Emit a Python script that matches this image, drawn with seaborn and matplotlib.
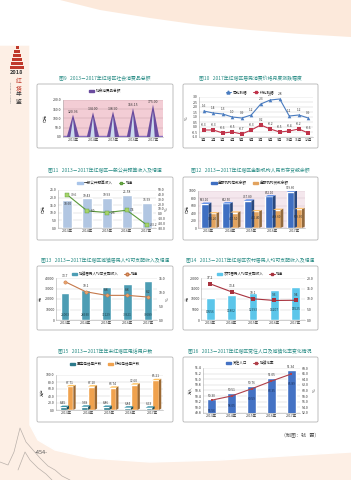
import numpy as np
import pandas as pd
import matplotlib
matplotlib.use("Agg")
import matplotlib.pyplot as plt
import matplotlib.colors as mcolors
import seaborn as sns
from matplotlib.patches import Polygon, Rectangle, FancyBboxPatch, Patch
from matplotlib.lines import Line2D

sns.set_theme(style="white")
plt.rcParams["font.family"] = ["Noto Sans CJK SC", "DejaVu Sans"]
plt.rcParams["axes.unicode_minus"] = False

# ---------------- data ----------------
years = ["2013年", "2014年", "2015年", "2016年", "2017年"]
retail_total = [120.96, 134.00, 138.90, 156.15, 175.00]

months = ["1月", "2月", "3月", "4月", "5月", "6月", "7月", "8月", "9月", "10月", "11月", "12月"]
cpi_yoy = [1.6, 1.4, 1.3, 1.0, 0.9, 1.2, 2.3, 2.7, 2.8, 1.1, 1.2, 0.9]
cpi_mom = [-0.3, -0.3, -0.6, -0.5, -0.7, -0.3, 0.2, -0.2, -0.5, -0.4, -0.2, -0.6]

budget_income = [18.60, 19.43, 19.93, 21.58, 16.59]
budget_growth = [39.6, 6.0, 2.6, 7.4, -23.2]

deposits = [653.10, 662.50, 737.80, 852.10, 979.60]
loans = [396.20, 417.50, 452.40, 488.60, 509.30]

urban_income = [26003, 28930, 31129, 33921, 36689]
urban_growth = [13.7, 10.1, 8.8, 8.8, 8.2]

rural_income = [10556, 11802, 12993, 14207, 15525]
rural_growth = [17.2, 13.4, 10.1, 9.3, 9.4]

fixed_phone = [8.45, 9.38, 8.86, 6.84, 6.63]
mobile_phone = [67.71, 67.10, 63.74, 72.60, 85.21]

population = [50.30, 50.51, 50.76, 51.05, 51.34]
urban_rate = [56.56, 58.05, 60.59, 63.35, 65.89]

# ---------------- figure ----------------
W, H = 351, 480
fig = plt.figure(figsize=(W / 100, H / 100), dpi=100)
bg = fig.add_axes([0, 0, 1, 1])
bg.set_xlim(0, W)
bg.set_ylim(H, 0)
bg.axis("off")

bg.add_patch(Rectangle((0, 0), W, H, color="#fdefe5", zorder=0))
white = [(0, 0), (W, 0), (W, 452), (300, 455), (220, 460), (150, 462), (90, 458),
         (55, 450), (38, 440), (30, 425), (30, 45), (0, 45)]
bg.add_patch(Polygon(white, closed=True, color="white", zorder=1))
band = [(60, 0), (W, 0), (W, 37), (300, 34), (250, 30), (200, 25), (150, 18), (100, 10)]
bg.add_patch(Polygon(band, closed=True, color="#fbe2cf", alpha=0.75, zorder=1.5, lw=0))
# decorative mountain sketch
m1 = [(0, 462), (8, 465), (14, 452), (20, 428), (26, 442), (33, 450), (40, 458), (48, 466), (55, 470), (62, 476), (70, 480)]
m2 = [(18, 470), (25, 452), (30, 460), (38, 468), (46, 474), (52, 480)]
for m in (m1, m2):
    bg.plot([p[0] for p in m], [p[1] for p in m], color="#b9b0aa", lw=0.5, zorder=2)

# logo
for i, (w_, y_) in enumerate([(3, 46), (6, 50), (8, 54), (10, 58), (12, 62), (14, 66)]):
    bg.add_patch(Rectangle((17 - w_ / 2, y_), w_, 2.6, color="#c0392b", zorder=3, lw=0))
bg.text(17, 72.5, "2018", fontsize=4, color="#333333", ha="center", va="center", fontweight="bold", zorder=3)
for j, (ch, col) in enumerate([("红", "#c0392b"), ("塔", "#c0392b"), ("年", "#333333"), ("鉴", "#333333")]):
    bg.text(19, 81 + j * 7, ch, fontsize=4.2, color=col, ha="center", va="center", zorder=3)
bg.text(11, 92, "HONGTA  YEARBOOK", fontsize=1.6, color="#777777", rotation=90, ha="center", va="center", zorder=3)

# chart frames and titles
boxes = [(37, 84, 173, 148), (183, 84, 318, 148), (37, 177, 173, 240), (183, 177, 318, 240),
         (37, 266, 173, 330), (183, 266, 318, 330), (37, 357, 173, 422), (183, 357, 318, 422)]
for (x0, y0, x1, y1) in boxes:
    bg.add_patch(FancyBboxPatch((x0, y0), x1 - x0, y1 - y0, boxstyle="round,pad=0,rounding_size=1.5",
                                fc="white", ec="#b5b5b5", lw=0.6, zorder=3))
titles = [(105, 79, "图9   2013－2017年红塔区社会消费品总额"),
          (250, 79, "图10   2017年红塔区居民消费价格月度涨跌幅度"),
          (105, 171, "图11   2013－2017年红塔区一般公共预算收入及增速"),
          (250, 171, "图12   2013－2017年红塔区金融机构人民币存贷款余额"),
          (105, 260.5, "图13   2013－2017年红塔区城镇居民人均可支配收入及增速"),
          (250, 260.5, "图14   2013－2017年红塔区农村居民人均可支配收入及增速"),
          (105, 351.5, "图15   2013－2017年年末红塔区电话用户数"),
          (250, 351.5, "图16   2013－2017年红塔区常住人口及城镇化率变化情况")]
for (x, y, t) in titles:
    bg.text(x, y, t, fontsize=3.5, color="#2a8d86", ha="center", va="center", zorder=4)
bg.text(300, 436, "（制图：钱   霞）", fontsize=3.6, color="#555555", ha="center", va="center", zorder=4)
bg.text(41, 453, "-454-", fontsize=4, color="#555555", ha="center", va="center", zorder=4)

TS = 2.5
TXT = "#333333"


def pax(x0, y0, x1, y1):
    return fig.add_axes([x0 / W, 1 - y1 / H, (x1 - x0) / W, (y1 - y0) / H])


def style(ax, grid=True, gc="#d0d0d0"):
    ax.tick_params(labelsize=TS, length=0, pad=1, colors=TXT)
    for s in ["top", "right"]:
        ax.spines[s].set_visible(False)
    for s in ["left", "bottom"]:
        ax.spines[s].set_color("#aaaaaa")
        ax.spines[s].set_linewidth(0.4)
    ax.set_xlabel("")
    ax.set_ylabel("")
    if grid:
        ax.yaxis.grid(True, color=gc, lw=0.35)
        ax.set_axisbelow(True)


def legend(cx, cy, handles, labels, spacing=1.5):
    fig.legend(handles, labels, loc="center", bbox_to_anchor=(cx / W, 1 - cy / H), ncol=len(handles),
               frameon=False, fontsize=2.6, handlelength=1.6, handleheight=0.6, columnspacing=spacing,
               handletextpad=0.4, borderaxespad=0)


def ylab(x, y, t):
    bg.text(x, y, t, fontsize=2.8, color=TXT, rotation=90, ha="center", va="center", zorder=5)


def add_depth(ax, dy, shade=0.65):
    for p in list(ax.patches):
        x, w, h = p.get_x(), p.get_width(), p.get_height()
        if w == 0 or not np.isfinite(h):
            continue
        dx = w * 0.35
        c = np.array(mcolors.to_rgb(p.get_facecolor()))
        ax.add_patch(Polygon([(x + w, 0), (x + w + dx, dy), (x + w + dx, h + dy), (x + w, h)], closed=True,
                             fc=c * shade, ec="none", zorder=p.get_zorder()))
        ax.add_patch(Polygon([(x, h), (x + dx, h + dy), (x + w + dx, h + dy), (x + w, h)], closed=True,
                             fc=np.minimum(c * 1.2, 1), ec="none", zorder=p.get_zorder()))


# ---------------- chart 9 ----------------
ax = pax(63, 100, 163, 137)
df9 = pd.DataFrame({"year": years, "val": retail_total})
sns.barplot(data=df9, x="year", y="val", color="#6b4fa0", width=0.62, ax=ax, zorder=3)
ax.set_facecolor("#f3cdd5")
style(ax, gc="#c9a3ab")
ax.set_ylim(0, 200)
ax.set_yticks(np.arange(0, 201, 50))
ax.set_yticklabels([f"{v:.1f}" for v in np.arange(0, 201, 50)])
ax.axhspan(0, 7, color="#8a70c2", zorder=2)
for p, v in zip(list(ax.patches), retail_total):
    x, w, h = p.get_x(), p.get_width(), p.get_height()
    p.set_visible(False)
    ax.add_patch(Polygon([(x, 0), (x + w / 2, h), (x + w, 0)], closed=True, fc="#6a4c9e", ec="none", zorder=4))
    ax.add_patch(Polygon([(x + w * 0.28, 0), (x + w / 2, h * 0.8), (x + w * 0.64, 0)], closed=True,
                         fc="#d6ecf7", ec="none", alpha=0.9, zorder=5))
    ax.text(x + w / 2, h + 4, f"{v:.2f}", fontsize=2.5, color=TXT, ha="center", va="bottom", zorder=6)
legend(105, 91, [Patch(color="#6a4c9e")], ["社会消费品总额"])
ylab(46, 118, "亿元")

# ---------------- chart 10 ----------------
ax = pax(199, 97, 313, 137)
df10 = pd.DataFrame({"month": months * 2, "val": cpi_yoy + cpi_mom,
                     "series": ["同比涨幅"] * 12 + ["环比涨幅"] * 12})
pal10 = {"同比涨幅": "#4a7cc0", "环比涨幅": "#c0334a"}
sns.lineplot(data=df10, x="month", y="val", hue="series", style="series",
             markers={"同比涨幅": "^", "环比涨幅": "s"}, dashes=False, palette=pal10,
             lw=0.8, markersize=2.6, markeredgewidth=0, ax=ax, legend=False, sort=False)
style(ax)
ax.set_ylim(-1.0, 3.0)
ax.set_yticks(np.arange(-1.0, 3.01, 0.5))
ax.set_yticklabels([f"{v:.1f}" for v in np.arange(-1.0, 3.01, 0.5)])
ax.set_xlim(-0.5, 11.5)
for i, (a, b) in enumerate(zip(cpi_yoy, cpi_mom)):
    ax.annotate(f"{a:.1f}", (i, a), xytext=(0, 2.5), textcoords="offset points", fontsize=2.3,
                ha="center", va="bottom", color=TXT)
    ax.annotate(f"{b:.1f}", (i, b), xytext=(0, 2.5), textcoords="offset points", fontsize=2.3,
                ha="center", va="bottom", color=TXT)
legend(250, 92, [Line2D([], [], color=pal10["同比涨幅"], marker="^", ms=2.2, lw=0.7),
                 Line2D([], [], color=pal10["环比涨幅"], marker="s", ms=2.0, lw=0.7)],
       ["同比涨幅", "环比涨幅"])
ylab(187, 118, "%")

# ---------------- chart 11 ----------------
ax = pax(58, 190, 156, 228)
sns.barplot(x=years, y=budget_income, color="#a9c5ea", width=0.5, ax=ax, zorder=2)
style(ax)
ax.set_ylim(0, 25)
ax.set_yticks(np.arange(0, 25.1, 5))
ax.set_yticklabels([f"{v:.1f}" for v in np.arange(0, 25.1, 5)])
for i, (p, v) in enumerate(zip(ax.patches, budget_income)):
    yy = p.get_height() - 1.8 if i == 0 else p.get_height() + 0.6
    ax.text(p.get_x() + p.get_width() / 2, yy, f"{v:.2f}", fontsize=2.4, ha="center",
            va="top" if i == 0 else "bottom", color=TXT, zorder=5)
ax2 = ax.twinx()
sns.lineplot(x=years, y=budget_growth, ax=ax2, color="#5a9a3a", marker="s", markersize=2.6,
             markerfacecolor="#a6d46a", markeredgecolor="#5a9a3a", markeredgewidth=0.3, lw=0.8, sort=False)
ax2.set_ylim(-30, 50)
ax2.set_yticks(np.arange(-30, 50.1, 10))
ax2.set_yticklabels([f"{v:.1f}" for v in np.arange(-30, 50.1, 10)])
ax2.tick_params(labelsize=TS, length=0, pad=1, colors=TXT)
for s in ax2.spines.values():
    s.set_visible(False)
for i, v in enumerate(budget_growth):
    ax2.annotate(f"{v:.1f}", (i, v), xytext=(2.5, 0), textcoords="offset points", fontsize=2.4,
                 ha="left", va="center", color=TXT)
legend(105, 183, [Patch(color="#a9c5ea"),
                  Line2D([], [], color="#5a9a3a", marker="s", ms=2, mfc="#a6d46a", lw=0.7)],
       ["一般公共预算收入", "增速"])
ylab(44, 209, "亿元")
ylab(167, 209, "%")

# ---------------- chart 12 ----------------
ax = pax(198, 191, 305, 228)
df12 = pd.DataFrame({"year": years * 2, "val": deposits + loans,
                     "kind": ["金融机构存款余额"] * 5 + ["金融机构贷款余额"] * 5})
pal12 = {"金融机构存款余额": "#3f6fc2", "金融机构贷款余额": "#e2a35e"}
sns.barplot(data=df12, x="year", y="val", hue="kind", palette=pal12, width=0.72, ax=ax, legend=False,
            zorder=3, saturation=1)
ax.set_facecolor("#f4e7ed")
style(ax, gc="#d9c6cf")
ax.set_ylim(0, 1000)
ax.set_yticks(np.arange(0, 1001, 200))
add_depth(ax, 35)
for p, v in zip(ax.patches[:5], deposits):
    ax.text(p.get_x() + p.get_width() / 2, p.get_height() + 45, f"{v:.2f}", fontsize=2.2, ha="center",
            va="bottom", color=TXT, zorder=6)
for p, v in zip(ax.patches[5:10], loans):
    ax.text(p.get_x() + p.get_width() / 2, p.get_height() * 0.6, f"{v:.2f}", fontsize=2.2, ha="center",
            va="center", color=TXT, zorder=6)
legend(250, 183, [Patch(color=pal12["金融机构存款余额"]), Patch(color=pal12["金融机构贷款余额"])],
       ["金融机构存款余额", "金融机构贷款余额"])
ylab(188, 209, "亿元")

# ---------------- chart 13 ----------------
ax = pax(56, 278, 157, 320)
sns.barplot(x=years, y=urban_income, color="#4d9db4", width=0.42, ax=ax, zorder=2, saturation=1)
style(ax)
ax.set_ylim(0, 40000)
ax.set_yticks(np.arange(0, 40001, 10000))
for p, v in zip(ax.patches, urban_income):
    ax.text(p.get_x() + p.get_width() / 2, 5200, f"{v}", fontsize=2.3, ha="center", va="center",
            color="#1d3f4a", zorder=5)
ax2 = ax.twinx()
sns.lineplot(x=years, y=urban_growth, ax=ax2, color="#c5784a", marker="o", markersize=2.4,
             markerfacecolor="#e8a36c", markeredgecolor="#c5784a", markeredgewidth=0.3, lw=0.8, sort=False)
ax2.set_ylim(0, 15)
ax2.set_yticks(np.arange(0, 15.1, 5))
ax2.set_yticklabels([f"{v:.1f}" for v in np.arange(0, 15.1, 5)])
ax2.tick_params(labelsize=TS, length=0, pad=1, colors=TXT)
for s in ax2.spines.values():
    s.set_visible(False)
for i, v in enumerate(urban_growth):
    ax2.annotate(f"{v:.1f}", (i, v), xytext=(0, 2.5), textcoords="offset points", fontsize=2.4,
                 ha="center", va="bottom", color=TXT)
legend(105, 274, [Patch(color="#4d9db4"),
                  Line2D([], [], color="#c5784a", marker="o", ms=2, mfc="#e8a36c", lw=0.7)],
       ["城镇居民人均可支配收入", "增速"])
ylab(41, 299, "元")
ylab(168, 299, "%")

# ---------------- chart 14 ----------------
ax = pax(201, 278, 305, 320)
sns.barplot(x=years, y=rural_income, color="#5cc6ea", width=0.42, ax=ax, zorder=2, saturation=1)
style(ax)
ax.set_ylim(0, 20000)
ax.set_yticks(np.arange(0, 20001, 5000))
for p, v in zip(ax.patches, rural_income):
    ax.text(p.get_x() + p.get_width() / 2, p.get_height() * 0.35, f"{v}", fontsize=2.3, ha="center",
            va="center", color="#1d3f4a", zorder=5)
ax2 = ax.twinx()
sns.lineplot(x=years, y=rural_growth, ax=ax2, color="#a8323e", marker="s", markersize=2.4,
             markeredgewidth=0, lw=0.8, sort=False)
ax2.set_ylim(0, 20)
ax2.set_yticks(np.arange(0, 20.1, 5))
ax2.set_yticklabels([f"{v:.1f}" for v in np.arange(0, 20.1, 5)])
ax2.tick_params(labelsize=TS, length=0, pad=1, colors=TXT)
for s in ax2.spines.values():
    s.set_visible(False)
for i, v in enumerate(rural_growth):
    ax2.annotate(f"{v:.1f}", (i, v), xytext=(0, 2.5), textcoords="offset points", fontsize=2.4,
                 ha="center", va="bottom", color=TXT)
legend(250, 274, [Patch(color="#5cc6ea"), Line2D([], [], color="#a8323e", marker="s", ms=2, lw=0.7)],
       ["农村居民人均可支配收入", "增速"])
ylab(188, 299, "元")

# ---------------- chart 15 ----------------
ax = pax(56, 375, 163, 410)
df15 = pd.DataFrame({"year": years * 2, "val": fixed_phone + mobile_phone,
                     "kind": ["固定电话用户数"] * 5 + ["移动电话用户数"] * 5})
pal15 = {"固定电话用户数": "#2c7a8c", "移动电话用户数": "#f0a24e"}
sns.barplot(data=df15, x="year", y="val", hue="kind", palette=pal15, width=0.62, ax=ax, legend=False,
            zorder=3, saturation=1)
style(ax)
ax.set_ylim(0, 100)
ax.set_yticks(np.arange(0, 101, 20))
ax.set_yticklabels([f"{v:.1f}" for v in np.arange(0, 101, 20)])
add_depth(ax, 4)
for p, v in zip(ax.patches[:10], fixed_phone + mobile_phone):
    ax.text(p.get_x() + p.get_width() / 2, p.get_height() + 5, f"{v:.2f}", fontsize=2.3, ha="center",
            va="bottom", color=TXT, zorder=6)
legend(105, 364, [Patch(color=pal15["固定电话用户数"]), Patch(color=pal15["移动电话用户数"])],
       ["固定电话用户数", "移动电话用户数"])
ylab(43, 392, "万户")

# ---------------- chart 16 ----------------
ax = pax(203, 368, 300, 413)
sns.barplot(x=years, y=population, color="#4472c4", width=0.42, ax=ax, zorder=2, saturation=1)
style(ax)
ax.set_ylim(49.8, 51.4)
ax.set_yticks(np.arange(49.8, 51.41, 0.2))
ax.set_yticklabels([f"{v:.1f}" for v in np.arange(49.8, 51.41, 0.2)])
for p, v in zip(ax.patches, population):
    ax.text(p.get_x() + p.get_width() / 2, p.get_y() + p.get_height() + 0.04, f"{v:.2f}", fontsize=2.3,
            ha="center", va="bottom", color=TXT, zorder=5)
ax2 = ax.twinx()
sns.lineplot(x=years, y=urban_rate, ax=ax2, color="#b0404a", marker="s", markersize=2.0,
             markeredgewidth=0, lw=0.8, sort=False)
ax2.set_ylim(52, 68)
ax2.set_yticks(np.arange(52, 68.1, 2))
ax2.set_yticklabels([f"{v:.1f}" for v in np.arange(52, 68.1, 2)])
ax2.tick_params(labelsize=TS, length=0, pad=1, colors=TXT)
for s in ax2.spines.values():
    s.set_visible(False)
for i, v in enumerate(urban_rate):
    ax2.annotate(f"{v:.2f}", (i, v), xytext=(0, -6), textcoords="offset points", fontsize=2.3,
                 ha="center", va="top", color="#1b2f5a")
legend(250, 363, [Patch(color="#4472c4"), Line2D([], [], color="#b0404a", marker="s", ms=1.8, lw=0.7)],
       ["常住人口", "城镇化率"])
ylab(190, 390, "万人")
ylab(315, 390, "%")

fig.savefig("out.png", dpi=100)
